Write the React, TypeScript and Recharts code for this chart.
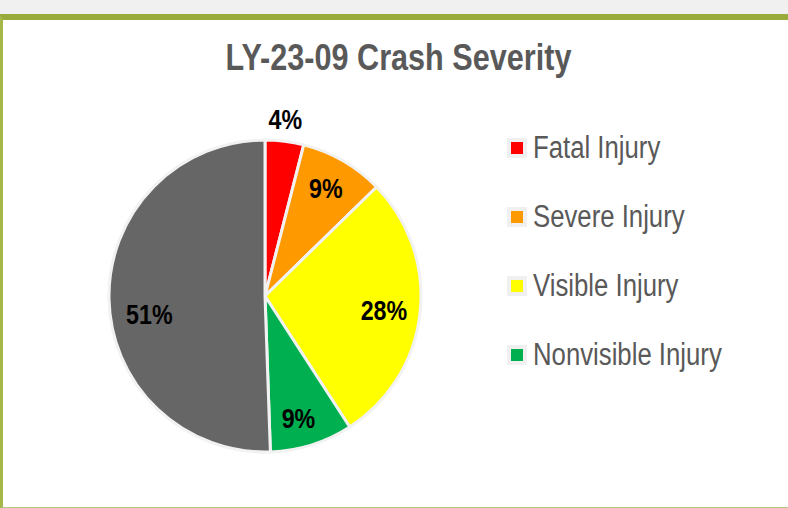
import { PieChart, Pie, Cell, Legend } from "recharts";

const categories = ["Fatal Injury", "Severe Injury", "Visible Injury", "Nonvisible Injury", "No Injury"];
const sharePct = [4.0, 8.7, 28.2, 8.6, 50.6];
const sliceColors = ["#FF0000", "#FF9900", "#FFFF00", "#00B050", "#666666"];
const legendNames = ["Fatal Injury", "Severe Injury", "Visible Injury", "Nonvisible Injury"];

const data = categories.map((name, i) => ({ name, value: sharePct[i] }));

const FONT = "'Liberation Sans', Arial, sans-serif";
const SQUEEZE = 0.83;
const RAD = Math.PI / 180;
// small nudges so labels sit where Excel's best-fit put them
const labelNudge = [
	[-2, 0],
	[0, -2],
	[-2, 1],
	[-3, 6],
	[6, 16],
];

const renderLabel = (props: any) => {
	const { cx, cy, midAngle, outerRadius, percent, index } = props;
	const r = percent < 0.05 ? outerRadius + 22 : outerRadius * 0.78;
	const nudge = labelNudge[index] || [0, 0];
	const x = cx + r * Math.cos(-midAngle * RAD) + nudge[0];
	const y = cy + r * Math.sin(-midAngle * RAD) + nudge[1];
	return (
		<text
			transform={`translate(${x},${y}) scale(${SQUEEZE},1)`}
			x={0}
			y={0}
			textAnchor='middle'
			dominantBaseline='central'
			fill='#000000'
			fontFamily={FONT}
			fontWeight='bold'
			fontSize={28}
		>
			{Math.round(percent * 100) + "%"}
		</text>
	);
};

const renderLegend = () => (
	<div style={{ fontFamily: FONT, fontSize: 31, color: "#595959" }}>
		{legendNames.map((name, i) => (
			<div key={name} style={{ display: "flex", alignItems: "center", height: 69 }}>
				<span
					style={{
						display: "inline-block",
						width: 12,
						height: 12,
						background: sliceColors[i],
						border: "4px solid #f0f0f0",
						marginRight: 6,
						flexShrink: 0,
					}}
				/>
				<span style={{ display: "inline-block", transform: `scaleX(${SQUEEZE})`, transformOrigin: "left center", whiteSpace: "nowrap" }}>
					{name}
				</span>
			</div>
		))}
	</div>
);

const App = () => {
	return (
		<div style={{ position: "absolute", left: 0, top: 0, width: 788, height: 508, background: "#f0f0f0" }}>
			<div
				style={{
					position: "absolute",
					left: 0,
					top: 14,
					width: 785,
					height: 487,
					background: "#ffffff",
					borderTop: "6px solid #9AAB3D",
					borderLeft: "3px solid #A4B84A",
					borderBottom: "1px solid #B9C67F",
				}}
			/>
			<div
				style={{
					position: "absolute",
					left: 0,
					top: 40,
					width: 797,
					textAlign: "center",
					fontFamily: FONT,
					fontWeight: "bold",
					fontSize: 36,
					lineHeight: "36px",
					color: "#595959",
				}}
			>
				<span style={{ display: "inline-block", transform: `scaleX(0.85)`, whiteSpace: "nowrap" }}>
					LY-23-09 Crash Severity
				</span>
			</div>
			<div style={{ position: "absolute", left: 0, top: 0 }}>
				<PieChart width={788} height={508} margin={{ top: 0, right: 0, bottom: 0, left: 0 }}>
					<Pie
						data={data}
						dataKey='value'
						nameKey='name'
						cx={265}
						cy={296}
						outerRadius={156}
						startAngle={90}
						endAngle={-270}
						stroke='#f2f2f2'
						strokeWidth={3}
						label={renderLabel}
						labelLine={false}
						isAnimationActive={false}
					>
						{data.map((d, i) => (
							<Cell key={d.name} fill={sliceColors[i]} />
						))}
					</Pie>
					<Legend
						layout='vertical'
						align='right'
						verticalAlign='top'
						content={renderLegend}
						wrapperStyle={{ left: 507, top: 113, width: 270 }}
					/>
				</PieChart>
			</div>
		</div>
	);
};

export default App;
